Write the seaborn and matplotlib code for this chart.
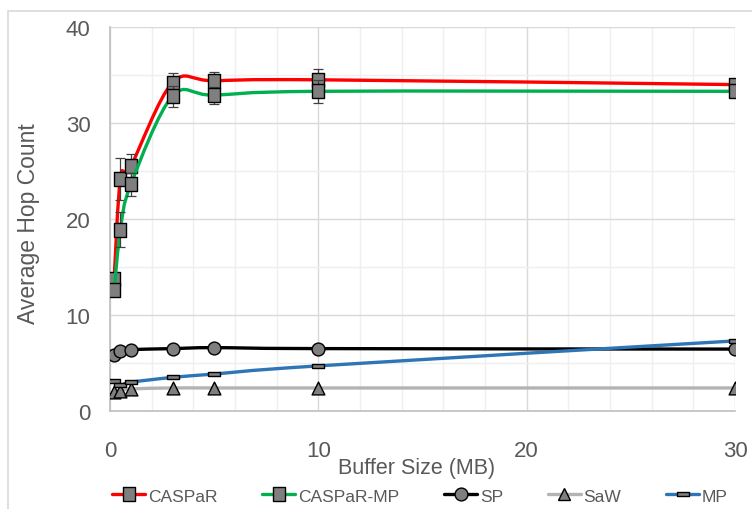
import numpy as np
import matplotlib
matplotlib.use("Agg")
import matplotlib.pyplot as plt
from matplotlib.path import Path
from matplotlib.patches import PathPatch, Rectangle
from matplotlib.lines import Line2D
from matplotlib.ticker import MultipleLocator
import seaborn as sns

# ---- data ----
buffer_mb = [0.2, 0.5, 1, 3, 5, 10, 30]
caspar = [13.8, 24.2, 25.5, 34.2, 34.4, 34.5, 34.0]
caspar_err = [0.6, 2.2, 1.3, 1.0, 0.9, 1.1, 0.6]
caspar_mp = [12.6, 18.9, 23.6, 32.8, 32.9, 33.3, 33.3]
caspar_mp_err = [0.6, 1.8, 1.2, 1.1, 0.9, 1.2, 0.6]
sp = [5.8, 6.3, 6.4, 6.5, 6.6, 6.5, 6.45]
saw = [2.0, 2.1, 2.3, 2.4, 2.4, 2.4, 2.4]
mp = [3.1, 2.7, 3.0, 3.5, 3.85, 4.7, 7.3]
series_names = ["CASPaR", "CASPaR-MP", "SP", "SaW", "MP"]
x_ticks = [0, 10, 20, 30]
y_ticks = [0, 10, 20, 30, 40]

sns.set_theme(style="white")
plt.rcParams["font.family"] = ["Liberation Sans", "DejaVu Sans"]

W, H = 752, 510
fig = plt.figure(figsize=(W / 100, H / 100), dpi=100)
ax = fig.add_axes([110 / W, (H - 412) / H, 625 / W, 384 / H])

# outer chart border
fig.patches.append(Rectangle((8 / W, -0.05), 1.2, (H - 12) / H + 0.05,
                             transform=fig.transFigure, fill=False,
                             edgecolor="#d9d9d9", lw=1.2, zorder=0))

TICK_GRAY = "#595959"
MARK_FILL = "#7f7f7f"


def smooth_path(xs, ys):
    """Cubic Bezier path through the points (Catmull-Rom style tangents)."""
    pts = np.column_stack([xs, ys]).astype(float)
    n = len(pts)
    verts = [pts[0]]
    codes = [Path.MOVETO]
    for i in range(n - 1):
        p0 = pts[i - 1] if i > 0 else pts[i]
        p1 = pts[i]
        p2 = pts[i + 1]
        p3 = pts[i + 2] if i + 2 < n else pts[i + 1]
        c1 = p1 + (p2 - p0) / 6.0
        c2 = p2 - (p3 - p1) / 6.0
        verts += [c1, c2, p2]
        codes += [Path.CURVE4] * 3
    return Path(verts, codes)


mp_marker = [(-1, -0.32), (1, -0.32), (1, 0.32), (-1, 0.32), (-1, -0.32)]
sq_marker = [(-0.85, -1), (0.85, -1), (0.85, 1), (-0.85, 1), (-0.85, -1)]

specs = [
    ("CASPaR", caspar, caspar_err, "#ff0000", sq_marker, 110),
    ("CASPaR-MP", caspar_mp, caspar_mp_err, "#00b050", sq_marker, 110),
    ("SP", sp, None, "#000000", "o", 85),
    ("SaW", saw, None, "#b3b3b3", "^", 85),
    ("MP", mp, None, "#2e75b6", mp_marker, 70),
]

z = 3
for name, vals, err, color, marker, size in specs:
    ax.add_patch(PathPatch(smooth_path(buffer_mb, vals), fill=False,
                           edgecolor=color, lw=2.4, capstyle="round",
                           joinstyle="round", zorder=z))
    if err is not None:
        ax.errorbar(buffer_mb, vals, yerr=err, fmt="none", ecolor="#404040",
                    elinewidth=0.9, capsize=3.5, capthick=0.9, zorder=z + 0.5)
    sns.scatterplot(x=buffer_mb, y=vals, ax=ax, marker=marker, s=size,
                    color=MARK_FILL, edgecolor="black", linewidth=1.0,
                    zorder=z + 1, legend=False)
    z += 2

# axes styling
ax.set_xlim(0, 30)
ax.set_ylim(0, 40)
ax.set_xticks(x_ticks)
ax.set_yticks(y_ticks)
ax.xaxis.set_minor_locator(MultipleLocator(2))
ax.yaxis.set_minor_locator(MultipleLocator(5))
ax.grid(True, which="major", color="#d9d9d9", lw=1.0, zorder=0)
ax.grid(True, which="minor", color="#efefef", lw=1.0, zorder=0)
ax.set_axisbelow(True)
for side in ["top", "right"]:
    ax.spines[side].set_visible(False)
for side in ["left", "bottom"]:
    ax.spines[side].set_color("#bfbfbf")
    ax.spines[side].set_linewidth(1.2)
ax.tick_params(axis="both", which="both", length=0, labelsize=16,
               labelcolor=TICK_GRAY)
ax.tick_params(axis="y", pad=14)
ax.tick_params(axis="x", pad=21)

ax.set_xlabel("Buffer Size (MB)", fontsize=15.5, color=TICK_GRAY)
ax.xaxis.set_label_coords(0.49, -0.148)
ax.xaxis.label.set_verticalalignment("center")
ax.set_ylabel("Average Hop Count", fontsize=16.5, color=TICK_GRAY)
ax.yaxis.set_label_coords(-0.131, 0.49)
ax.yaxis.label.set_verticalalignment("center")

# legend
handles = []
for name, vals, err, color, marker, size in specs:
    handles.append(Line2D([0], [0], color=color, lw=2.4, marker=marker,
                          markersize=np.sqrt(size), markerfacecolor=MARK_FILL,
                          markeredgecolor="black", markeredgewidth=1.0))
fig.legend(handles, series_names, loc="center", ncol=5,
           bbox_to_anchor=(420 / W, 1 - 497 / H), frameon=False,
           fontsize=12.5, labelcolor=TICK_GRAY, handlelength=1.9,
           handletextpad=0.15, columnspacing=2.6, borderpad=0.1)

fig.savefig("out.png", dpi=100)
